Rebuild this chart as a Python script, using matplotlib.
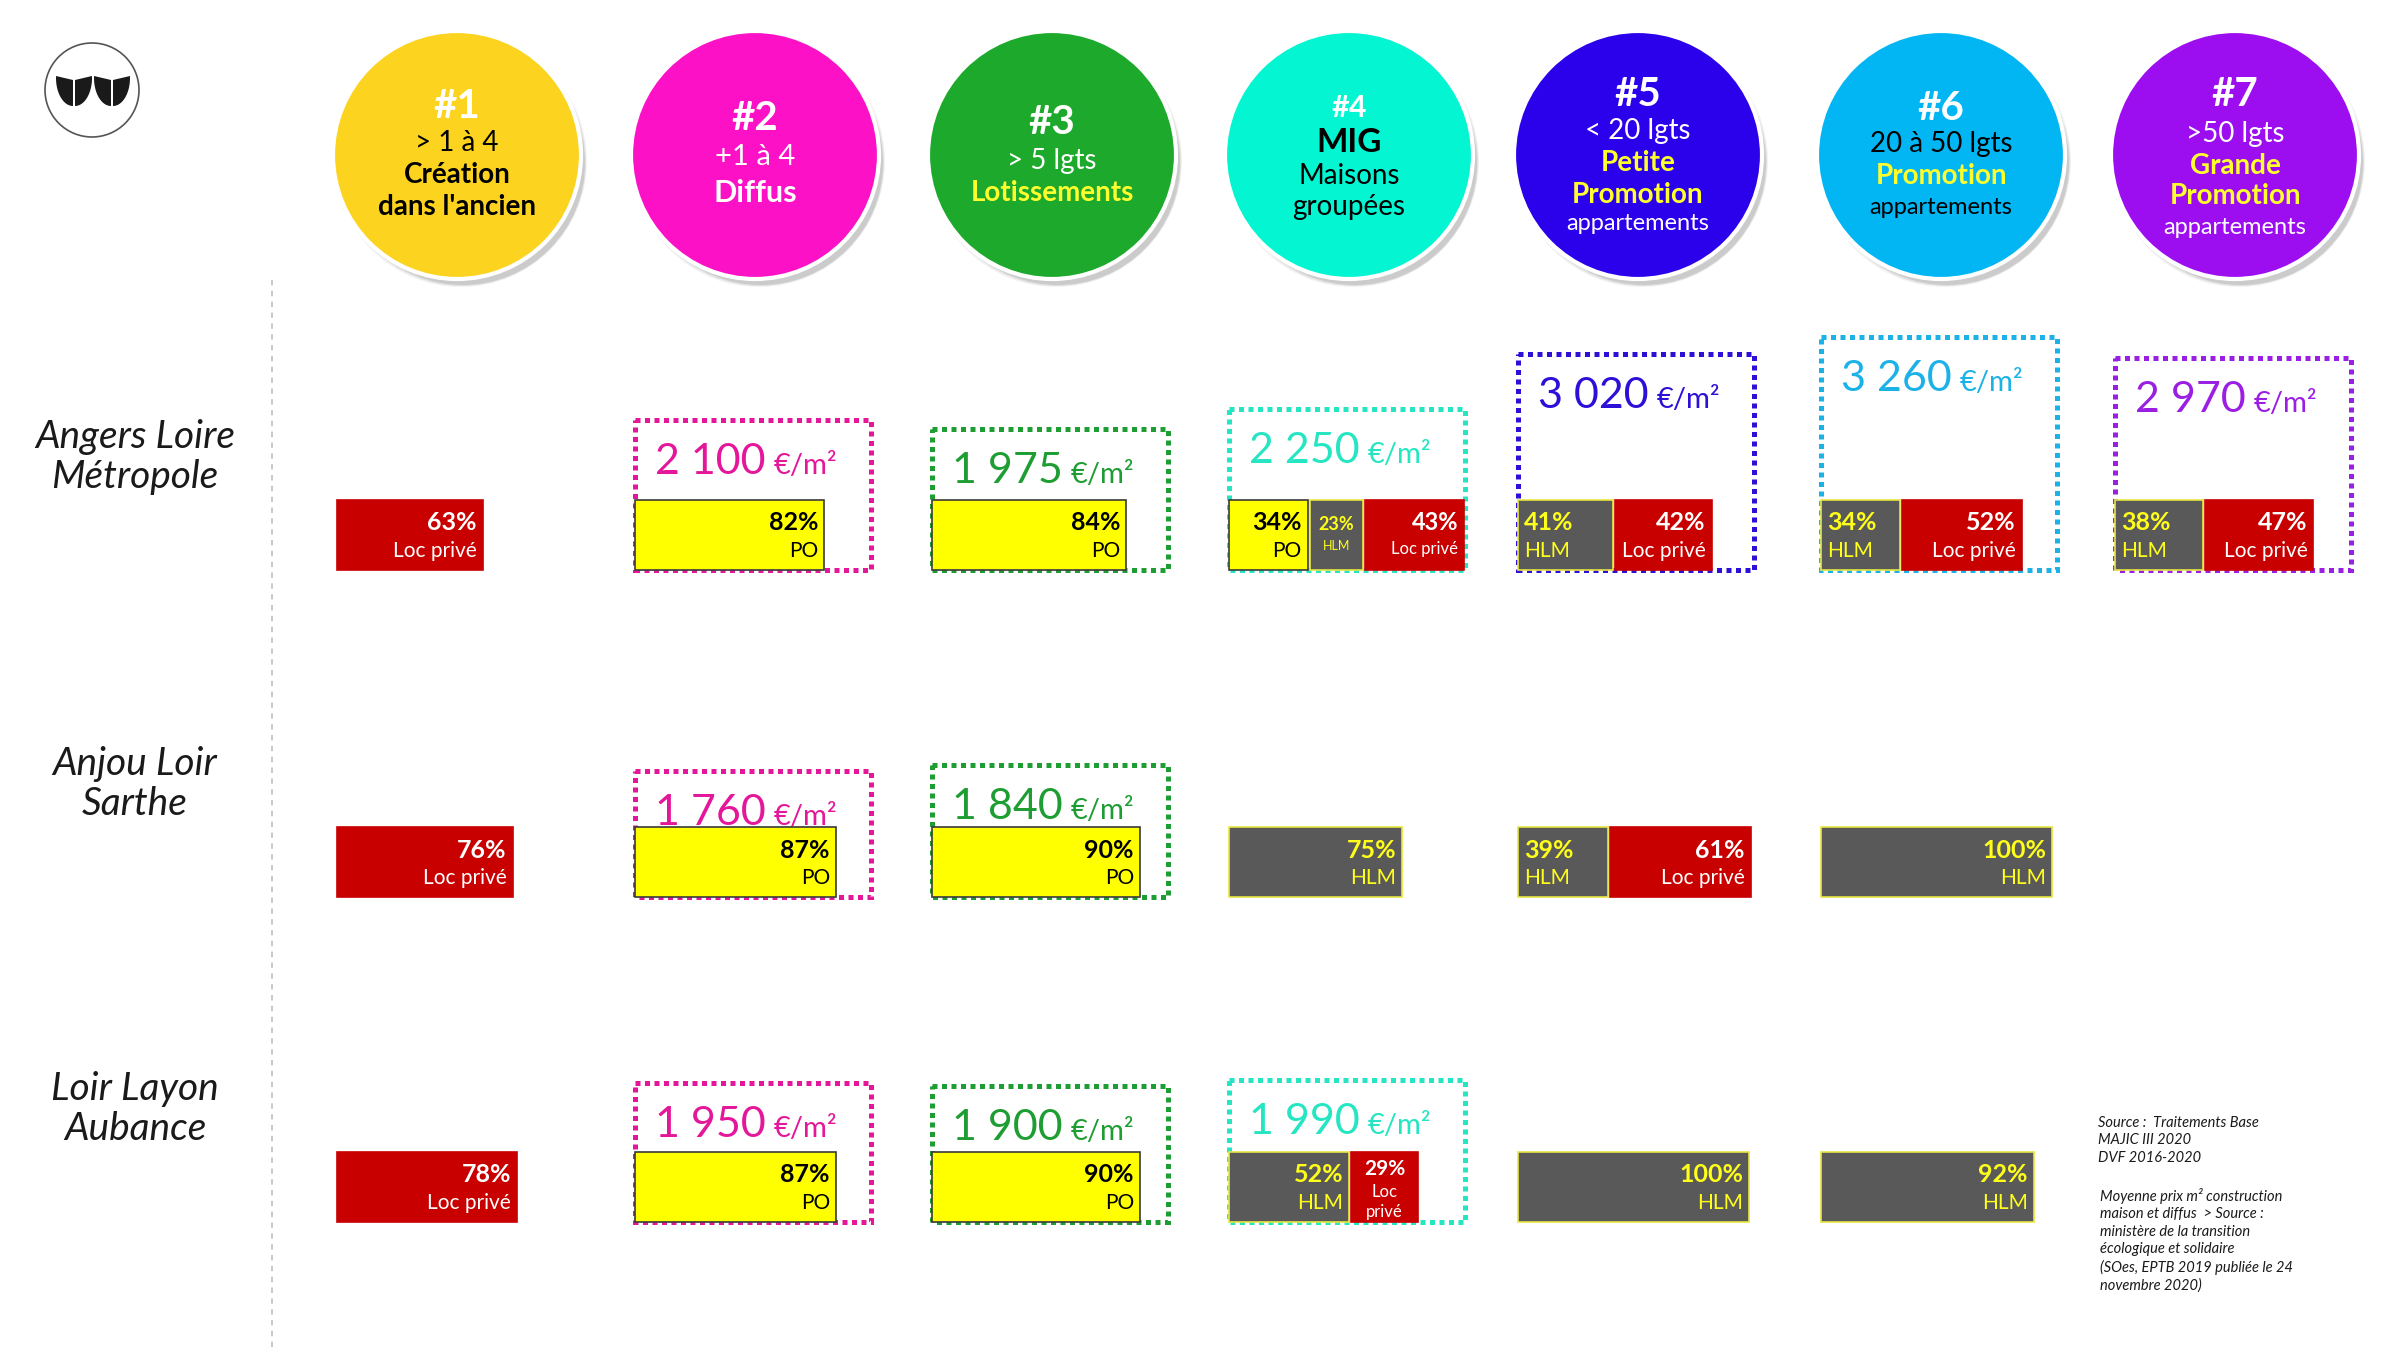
import numpy as np
import matplotlib.pyplot as plt
from matplotlib.patches import Circle, Rectangle, Polygon

categories = ['#1', '#2', '#3', '#4', '#5', '#6', '#7']
header_lines = [
    ['#1', '> 1 à 4', 'Création', "dans l'ancien"],
    ['#2', '+1 à 4', 'Diffus'],
    ['#3', '> 5 lgts', 'Lotissements'],
    ['#4', 'MIG', 'Maisons', 'groupées'],
    ['#5', '< 20 lgts', 'Petite', 'Promotion', 'appartements'],
    ['#6', '20 à 50 lgts', 'Promotion', 'appartements'],
    ['#7', '>50 lgts', 'Grande', 'Promotion', 'appartements'],
]
territories = ['Angers Loire\nMétropole', 'Anjou Loir\nSarthe', 'Loir Layon\nAubance']

# average construction price (€/m²), None = not shown
prices = [
    [None, 2100, 1975, 2250, 3020, 3260, 2970],
    [None, 1760, 1840, None, None, None, None],
    [None, 1950, 1900, 1990, None, None, None],
]

# occupancy split per territory / category: (type, %)
occupancy = [
    [[('Loc privé', 63)], [('PO', 82)], [('PO', 84)],
     [('PO', 34), ('HLM', 23), ('Loc privé', 43)],
     [('HLM', 41), ('Loc privé', 42)], [('HLM', 34), ('Loc privé', 52)],
     [('HLM', 38), ('Loc privé', 47)]],
    [[('Loc privé', 76)], [('PO', 87)], [('PO', 90)], [('HLM', 75)],
     [('HLM', 39), ('Loc privé', 61)], [('HLM', 100)], []],
    [[('Loc privé', 78)], [('PO', 87)], [('PO', 90)],
     [('HLM', 52), ('Loc privé', 29)], [('HLM', 100)], [('HLM', 92)], []],
]

source_1 = "Source :  Traitements Base\nMAJIC III 2020\nDVF 2016-2020"
source_2 = ("Moyenne prix m² construction\nmaison et diffus  > Source :\n"
            "ministère de la transition\nécologique et solidaire\n"
            "(SOes, EPTB 2019 publiée le 24\nnovembre 2020)")

# ---- layout / style ----
FONT = 'Lato'
col_left = [337, 635, 932, 1229, 1518, 1821, 2115]
row_y = [535, 862, 1187]
BAR_H = 70
PX_PER_PCT = 2.31
PX_PER_EURO = 0.0715
BOX_W = 236
CIRCLE_Y, CIRCLE_R = 155, 124

circle_colors = ['#FCD31E', '#FC11C6', '#1DA92B', '#03F5D2', '#2B00EA', '#02B6F4', '#9C0EF0']
price_colors = ['#000000', '#E4179B', '#1E9E32', '#25E5C2', '#2C10D8', '#1CB2E8', '#9A1FE3']
YEL = '#FFFF2E'
header_style = [  # (offset, color, bold, size)
    [(-49, 'white', True, 29), (-12, 'black', False, 20), (20, 'black', True, 20), (52, 'black', True, 20)],
    [(-37, 'white', True, 29), (2, 'white', False, 21), (38, 'white', True, 22)],
    [(-32, 'white', True, 29), (6, 'white', False, 20), (38, YEL, True, 20)],
    [(-47, 'white', True, 22), (-12, 'black', True, 24), (21, 'black', False, 20), (52, 'black', False, 20)],
    [(-61, 'white', True, 29), (-24, 'white', False, 20), (8, YEL, True, 20), (40, YEL, True, 20), (69, 'white', False, 17)],
    [(-47, 'white', True, 29), (-11, 'black', False, 20), (21, YEL, True, 20), (52, 'black', False, 17)],
    [(-60, 'white', True, 29), (-21, 'white', False, 20), (11, YEL, True, 20), (41, YEL, True, 20), (72, 'white', False, 17)],
]
seg_fill = {'Loc privé': '#C80000', 'PO': '#FFFF00', 'HLM': '#595959'}
seg_edge = {'Loc privé': '#C80000', 'PO': '#3A3A3A', 'HLM': '#E6E640'}
seg_text = {'Loc privé': 'white', 'PO': 'black', 'HLM': '#FFFF1A'}
left_aligned = {(0, 4, 0), (0, 5, 0), (0, 6, 0), (1, 4, 0)}
small = {(0, 3, 1): 'center', (0, 3, 2): 'right', (2, 3, 1): 'stack'}

fig = plt.figure(figsize=(24, 13.5), dpi=100)
ax = fig.add_axes([0, 0, 1, 1])
ax.set_xlim(0, 2400)
ax.set_ylim(1350, 0)
ax.axis('off')

# logo: circle with four half-leaves
ax.add_patch(Circle((92, 90), 47, facecolor='white', edgecolor='#555555', lw=1.2))
t = np.linspace(0, np.pi / 2, 30)
for xi, side in [(73, -1), (75, 1), (111, -1), (113, 1)]:
    xs = xi + side * 17 * np.cos(t)
    ys = 78 + 28 * np.sin(t)
    pts = np.column_stack([np.r_[xs, xi], np.r_[ys, 80]])
    pts[0, 1] = 76
    ax.add_patch(Polygon(pts, closed=True, color='#1A1A1A', lw=0))

# header circles
for i, cat in enumerate(categories):
    cx = col_left[i] + 120
    for k, a in enumerate([0.05, 0.07, 0.09]):
        ax.add_patch(Circle((cx + 4 + k, CIRCLE_Y + 6 + k), CIRCLE_R + 2 - 2 * k,
                            color='#000000', alpha=a, lw=0))
    ax.add_patch(Circle((cx, CIRCLE_Y), CIRCLE_R, facecolor=circle_colors[i],
                        edgecolor='white', lw=3))
    for txt, (dy, c, b, s) in zip(header_lines[i], header_style[i]):
        ax.text(cx, CIRCLE_Y + dy, txt, ha='center', va='center', color=c,
                fontsize=s, fontweight='bold' if b else 'normal', family=FONT)

# vertical separator
ax.plot([272, 272], [280, 1350], color='#C4C4C4', lw=1.3, ls=(0, (3, 3)))

# territory labels
for r, name in enumerate(territories):
    ax.text(135, row_y[r] - 78, name, ha='center', va='center', fontsize=28,
            style='italic', family=FONT, color='#1A1A1A', linespacing=1.15)

renderer = fig.canvas.get_renderer()
inv = ax.transData.inverted()

for r in range(len(territories)):
    yc = row_y[r]
    top = yc - BAR_H / 2
    bottom = yc + BAR_H / 2
    for c in range(len(categories)):
        p = prices[r][c]
        if p is not None:
            h = p * PX_PER_EURO
            ax.add_patch(Rectangle((col_left[c], bottom - h), BOX_W, h, fill=False,
                                   edgecolor=price_colors[c], lw=3.6, ls=(0, (1, 0.9)),
                                   zorder=1))
            t = ax.text(col_left[c] + 20, bottom - h + 54, f"{p:,}".replace(',', ' '),
                        fontsize=31, color=price_colors[c], va='baseline', family=FONT)
            bb = t.get_window_extent(renderer=renderer)
            x_end = inv.transform((bb.x1, bb.y0))[0]
            ax.text(x_end + 8, bottom - h + 54, '€/m²', fontsize=21,
                    color=price_colors[c], va='baseline', family=FONT)
        left = col_left[c]
        for s, (kind, pct) in enumerate(occupancy[r][c]):
            w = pct * PX_PER_PCT
            ax.barh(yc, w, left=left, height=BAR_H, color=seg_fill[kind],
                    edgecolor=seg_edge[kind], lw=1.2, zorder=3)
            tc = seg_text[kind]
            key = (r, c, s)
            if key in small:
                mode = small[key]
                if mode == 'center':
                    xm = left + w / 2
                    ax.text(xm, top + 25, f"{pct}%", ha='center', va='center', color=tc,
                            fontsize=13, fontweight='bold', family=FONT, zorder=4)
                    ax.text(xm, top + 46, kind, ha='center', va='center', color=tc,
                            fontsize=9, family=FONT, zorder=4)
                elif mode == 'right':
                    ax.text(left + w - 6, top + 23, f"{pct}%", ha='right', va='center',
                            color=tc, fontsize=17, fontweight='bold', family=FONT, zorder=4)
                    ax.text(left + w - 6, top + 49, kind, ha='right', va='center',
                            color=tc, fontsize=12, family=FONT, zorder=4)
                else:
                    xm = left + w / 2
                    ax.text(xm, top + 17, f"{pct}%", ha='center', va='center', color=tc,
                            fontsize=15, fontweight='bold', family=FONT, zorder=4)
                    ax.text(xm, top + 40, 'Loc', ha='center', va='center', color=tc,
                            fontsize=12, family=FONT, zorder=4)
                    ax.text(xm, top + 60, 'privé', ha='center', va='center', color=tc,
                            fontsize=12, family=FONT, zorder=4)
            else:
                if key in left_aligned:
                    x, ha = left + 6, 'left'
                else:
                    x, ha = left + w - 6, 'right'
                ax.text(x, top + 23, f"{pct}%", ha=ha, va='center', color=tc,
                        fontsize=18, fontweight='bold', family=FONT, zorder=4)
                ax.text(x, top + 51, kind, ha=ha, va='center', color=tc,
                        fontsize=15, family=FONT, zorder=4)
            left += w + 2

# sources
ax.text(2098, 1116, source_1, fontsize=10.5, style='italic', family=FONT,
        color='#1A1A1A', va='top', linespacing=1.3)
ax.text(2100, 1188, source_2, fontsize=10.5, style='italic', family=FONT,
        color='#1A1A1A', va='top', linespacing=1.3)

fig.savefig('out.png', dpi=100, facecolor='white')
